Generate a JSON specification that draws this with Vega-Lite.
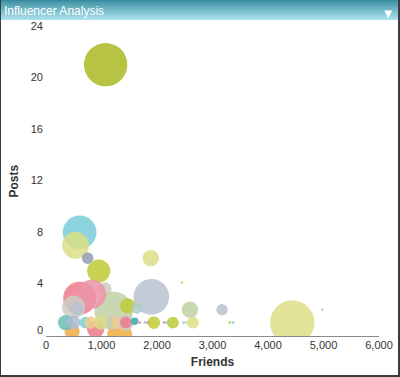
{
  "$schema": "https://vega.github.io/schema/vega-lite/v6.json",
  "background": "#3c3c3c",
  "padding": {"left": 1, "top": 0, "right": 2, "bottom": 2},
  "autosize": {"type": "pad"},
  "title": {"text": "Influencer Analysis", "anchor": "start", "frame": "bounds", "offset": -23, "dx": 3, "font": "Liberation Sans", "fontSize": 12, "fontWeight": "normal", "color": "#ffffff", "baseline": "middle"},
  "spacing": 0,
  "datasets": {
    "bubbles": [
      {"friends": 1084, "posts": 21.0, "influence": 99, "group": "olive"},
      {"friends": 614, "posts": 8.0, "influence": 60, "group": "cyan"},
      {"friends": 542, "posts": 7.0, "influence": 38, "group": "paleyellow"},
      {"friends": 759, "posts": 6.0, "influence": 7, "group": "slate"},
      {"friends": 958, "posts": 5.0, "influence": 28, "group": "olive2"},
      {"friends": 1898, "posts": 6.0, "influence": 14, "group": "paleyellow"},
      {"friends": 1907, "posts": 3.0, "influence": 67, "group": "bluegray"},
      {"friends": 2602, "posts": 2.0, "influence": 14, "group": "sage"},
      {"friends": 3181, "posts": 2.0, "influence": 7, "group": "bluegray"},
      {"friends": 4446, "posts": 1.0, "influence": 104, "group": "paleyellow"},
      {"friends": 1952, "posts": 1.0, "influence": 8.3, "group": "olive2"},
      {"friends": 2295, "posts": 1.0, "influence": 7.5, "group": "olive2"},
      {"friends": 2657, "posts": 1.0, "influence": 7.5, "group": "paleyellow"},
      {"friends": 1070, "posts": 3.6, "influence": 9.6, "group": "lightgray"},
      {"friends": 1229, "posts": 1.9, "influence": 78, "group": "sage"},
      {"friends": 1482, "posts": 2.3, "influence": 12.5, "group": "olive2"},
      {"friends": 1337, "posts": 0.0, "influence": 33, "group": "orange"},
      {"friends": 615, "posts": 2.9, "influence": 57, "group": "pink"},
      {"friends": 831, "posts": 3.2, "influence": 44, "group": "pink2"},
      {"friends": 904, "posts": 0.5, "influence": 16, "group": "pink"},
      {"friends": 480, "posts": 0.3, "influence": 12, "group": "orange"},
      {"friends": 1645, "posts": 2.1, "influence": 6, "group": "paleteal"},
      {"friends": 506, "posts": 2.2, "influence": 28, "group": "lightgray"},
      {"friends": 560, "posts": 2.1, "influence": 10, "group": "bluegray"},
      {"friends": 362, "posts": 1.0, "influence": 12.5, "group": "teal2"},
      {"friends": 506, "posts": 1.0, "influence": 9.6, "group": "bluegray2"},
      {"friends": 720, "posts": 1.0, "influence": 7, "group": "cyan"},
      {"friends": 813, "posts": 1.0, "influence": 8.3, "group": "peach"},
      {"friends": 1000, "posts": 1.0, "influence": 11, "group": "paleyellow"},
      {"friends": 1211, "posts": 1.0, "influence": 11, "group": "lightgray"},
      {"friends": 1211, "posts": 1.0, "influence": 6, "group": "sage"},
      {"friends": 1301, "posts": 1.0, "influence": 8.3, "group": "peach"},
      {"friends": 1446, "posts": 1.0, "influence": 14, "group": "lightgray"},
      {"friends": 1446, "posts": 1.0, "influence": 7, "group": "pink"},
      {"friends": 1608, "posts": 1.1, "influence": 3, "group": "teal"},
      {"friends": 506, "posts": 4.1, "influence": 0.3, "group": "paleyellow"},
      {"friends": 2458, "posts": 4.1, "influence": 0.3, "group": "olive2"},
      {"friends": 4988, "posts": 2.0, "influence": 0.4, "group": "sage"},
      {"friends": 1700, "posts": 1.0, "influence": 0.4, "group": "pink"},
      {"friends": 1790, "posts": 1.0, "influence": 0.4, "group": "cyan"},
      {"friends": 1840, "posts": 1.0, "influence": 0.4, "group": "pink"},
      {"friends": 2140, "posts": 1.0, "influence": 0.4, "group": "pink"},
      {"friends": 2190, "posts": 1.0, "influence": 0.4, "group": "cyan"},
      {"friends": 2490, "posts": 1.0, "influence": 0.4, "group": "cyan"},
      {"friends": 2540, "posts": 1.0, "influence": 0.4, "group": "paleyellow"},
      {"friends": 3320, "posts": 1.0, "influence": 0.4, "group": "olive2"},
      {"friends": 3380, "posts": 1.0, "influence": 0.4, "group": "cyan"}
    ]
  },
  "vconcat": [
    {
      "width": 397,
      "height": 20,
      "data": {"values": [{}]},
      "title": {"text": "▼", "anchor": "end", "frame": "group", "offset": -24, "dx": -6, "font": "DejaVu Sans", "fontSize": 10, "color": "#ffffff", "baseline": "middle"},
      "mark": {"type": "rect", "color": {"gradient": "linear", "x1": 0, "y1": 0, "x2": 0, "y2": 1, "stops": [{"offset": 0, "color": "#35889b"}, {"offset": 0.15, "color": "#4c9cad"}, {"offset": 1, "color": "#aee3ef"}]}},
      "encoding": {}
    },
    {
      "width": 397,
      "height": 316,
      "data": {"name": "bubbles"},
      "mark": {"type": "circle", "opacity": 0.85, "clip": true, "stroke": null},
      "encoding": {
        "x": {"field": "friends", "type": "quantitative", "scale": {"domain": [0, 6000], "range": [44.5, 377.5], "nice": false, "zero": false}, "axis": null},
        "y": {"field": "posts", "type": "quantitative", "scale": {"domain": [0, 24], "range": [315.5, 6], "nice": false},
          "axis": {"orient": "left", "offset": -44.5, "title": "Posts", "values": [0, 4, 8, 12, 16, 20, 24], "domain": false, "ticks": false, "tickSize": 0, "grid": false, "labelPadding": 3, "labelFont": "Liberation Sans", "labelFontSize": 11, "labelColor": "#333333", "labelBaseline": {"condition": {"test": "datum.value === 0", "value": "bottom"}, "value": "middle"}, "titleFont": "Liberation Sans", "titleFontSize": 12, "titleFontWeight": "bold", "titleColor": "#333333", "titlePadding": 10}},
        "size": {"field": "influence", "type": "quantitative", "scale": {"domain": [0, 100], "range": [0, 1900]}, "legend": null},
        "color": {"field": "group", "type": "nominal", "legend": null,
          "scale": {"domain": ["olive", "cyan", "paleyellow", "slate", "olive2", "bluegray", "sage", "pink", "pink2", "orange", "peach", "teal", "teal2", "lightgray", "paleteal", "bluegray2"],
                    "range": ["#aaba22", "#79ced8", "#dade86", "#939bb0", "#becb36", "#b9c3cf", "#c0d1a3", "#ed7a8f", "#eb94a7", "#f0ac44", "#f5ca8b", "#3da8ac", "#6abeb5", "#cdcdc3", "#acccc8", "#acbad1"]}}
      }
    },
    {
      "width": 397,
      "height": 39,
      "data": {"name": "bubbles"},
      "mark": {"type": "point", "opacity": 0},
      "encoding": {
        "x": {"field": "friends", "type": "quantitative", "scale": {"domain": [0, 6000], "range": [44.5, 377.5], "nice": false, "zero": false},
          "axis": {"orient": "bottom", "offset": -39, "title": "Friends", "values": [0, 1000, 2000, 3000, 4000, 5000, 6000], "format": ",d", "domain": true, "domainColor": "#8a8a8a", "domainWidth": 1, "ticks": false, "tickSize": 0, "grid": false, "labelPadding": 3, "labelFlush": false, "labelFont": "Liberation Sans", "labelFontSize": 11, "labelColor": "#333333", "titleFont": "Liberation Sans", "titleFontSize": 12, "titleFontWeight": "bold", "titleColor": "#333333", "titlePadding": 6}}
      }
    }
  ],
  "config": {"view": {"stroke": null, "fill": "#ffffff"}, "font": "Liberation Sans"}
}
